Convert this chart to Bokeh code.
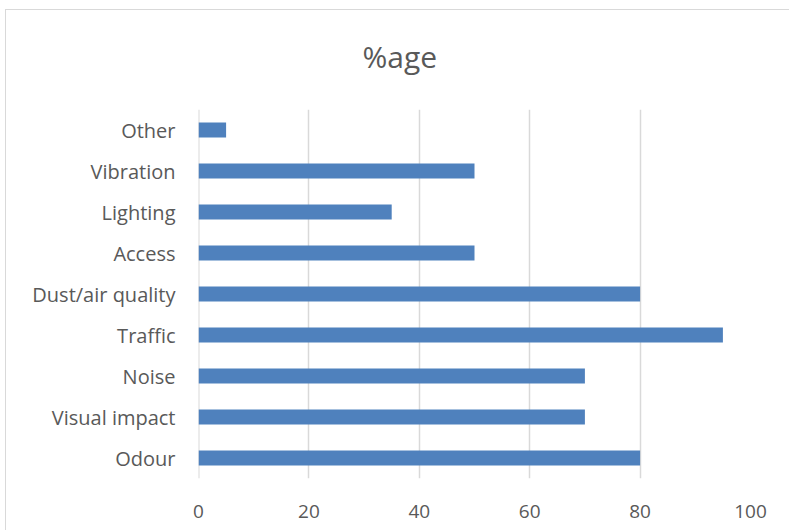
from bokeh.plotting import figure
from bokeh.models import Range1d, FactorRange, FixedTicker, Span, InlineStyleSheet
from bokeh.embed import file_html
from bokeh.resources import INLINE

categories = ["Odour", "Visual impact", "Noise", "Traffic", "Dust/air quality",
              "Access", "Lighting", "Vibration", "Other"]
values = [80, 70, 70, 95, 80, 50, 35, 50, 5]
x_ticks = [0, 20, 40, 60, 80, 100]
title_text = "%age"

FONT = "Open Sans"
GREY = "#595959"

p = figure(width=789, height=530, output_backend="svg", toolbar_location=None,
           y_range=FactorRange(factors=categories), x_range=Range1d(0, 100),
           min_border_left=198, min_border_right=39, min_border_top=108,
           min_border_bottom=52, title=title_text)

p.title.align = "left"
p.title.offset = 164
p.title.standoff = 66
p.title.text_font = FONT
p.title.text_font_size = "30px"
p.title.text_font_style = "normal"
p.title.text_color = GREY

# zero gridline (frame edge would clip it)
p.add_layout(Span(location=0, dimension="height", line_color="#d9d9d9", line_width=2,
                  level="underlay"), "center")

p.hbar(y=categories, right=values, left=0, height=0.37, color="#4F81BD", line_color=None)

p.outline_line_color = None
p.xaxis.ticker = FixedTicker(ticks=x_ticks)
p.xgrid.ticker = FixedTicker(ticks=x_ticks)
p.xgrid.grid_line_color = "#d9d9d9"
p.xgrid.grid_line_width = 1.5
p.ygrid.grid_line_color = None
for ax in (p.xaxis, p.yaxis):
    ax.axis_line_color = None
    ax.major_tick_line_color = None
    ax.minor_tick_line_color = None
    ax.major_label_text_font = FONT
    ax.major_label_text_color = GREY
p.xaxis.major_label_text_font_size = "19px"
p.yaxis.major_label_text_font_size = "20px"
p.xaxis.major_label_standoff = 20
p.yaxis.major_label_standoff = 17

# outer chart border drawn as an overlay on the plot's host element
p.stylesheets = [InlineStyleSheet(css="""
:host { position: relative; }
:host::after {
  content: ""; position: absolute; left: 5px; top: 9px;
  width: 800px; height: 540px;
  border: 1.5px solid #d9d9d9; pointer-events: none; box-sizing: border-box;
}
""")]

open("out.html", "w").write(file_html(p, INLINE))
